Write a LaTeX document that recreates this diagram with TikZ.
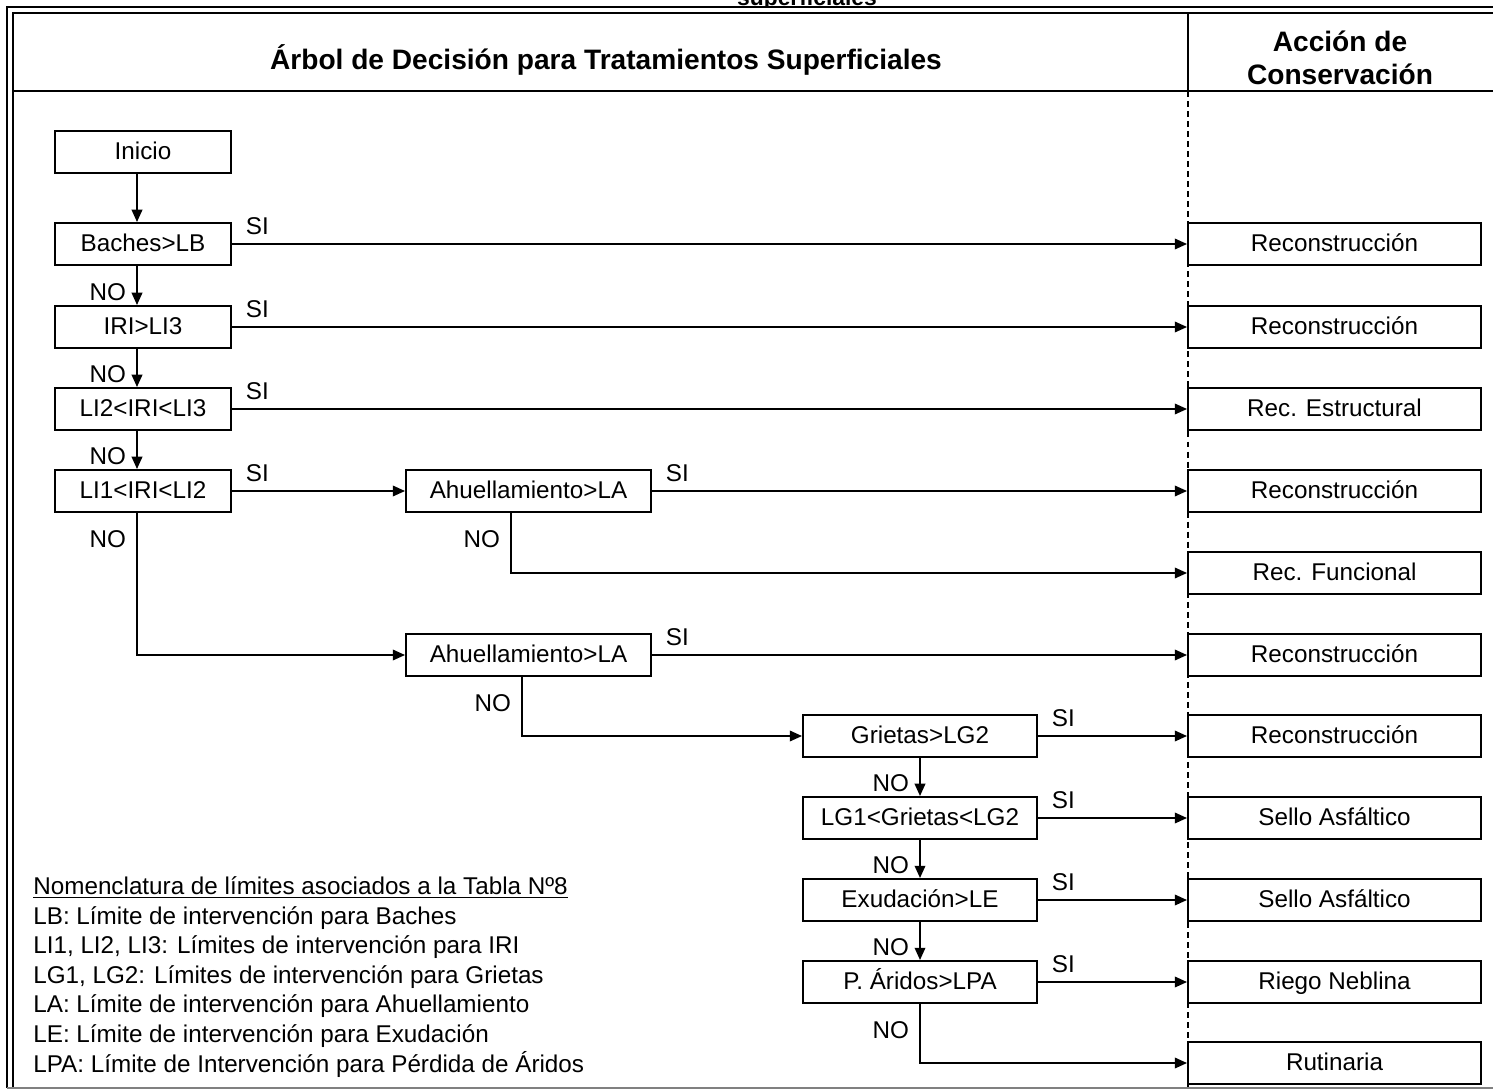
\documentclass[tikz,border=0pt]{standalone}
\usepackage{fontspec}
\setmainfont{Liberation Sans}
\usetikzlibrary{arrows.meta, positioning}

\tikzset{
  box/.style={draw, line width=1.1pt, minimum height=0.84cm, inner sep=0pt, text height=10pt, text depth=1.2pt},
  cond/.style={box, minimum width=3.52cm},
  ahu/.style={box, minimum width=4.9cm},
  grt/.style={box, minimum width=4.68cm},
  accion/.style={box, minimum width=5.86cm},
  flow/.style={-{Triangle[length=7pt, width=6pt]}, line width=1.1pt},
  si/.style={pos=0, anchor=south west, inner sep=0pt, xshift=0.26cm, yshift=0.17cm},
  nodown/.style={pos=0.66, anchor=east, inner sep=0pt, xshift=-0.2cm},
  nobend/.style={pos=0, anchor=north east, inner sep=0pt, xshift=-0.2cm, yshift=-0.34cm},
  header/.style={font=\fontsize{16}{18.7}\selectfont\bfseries, align=center}
}

\begin{document}
\begin{tikzpicture}[x=0.02cm, y=-0.02cm, font=\fontsize{13.8}{16.84}\selectfont]
  \useasboundingbox (0,0) rectangle (1493,1091);

  % cut-off caption above the frame
  \node[anchor=base, font=\fontsize{13}{15}\selectfont\bfseries] (caption) at (807,6) {\underline{superficiales}};

  % frame
  \fill[white] (7,7) rectangle (1493,12);
  \draw[line width=1.5pt] (1493,7) -- (7,7) -- (7,1088);
  \draw[line width=0.9pt] (1493,13) -- (13,13) -- (13,1088);
  \draw[line width=0.9pt] (13,91) -- (1493,91);
  \draw[line width=0.9pt] (1188,13) -- (1188,91);
  \draw[line width=0.8pt, dash pattern=on 3.4pt off 2.3pt] (1188,91) -- (1188,1088);
  \draw[line width=1.1pt, gray] (7,1088) -- (1493,1088);

  % headers
  \node[header] (titulo) at (606,60) {Árbol de Decisión para Tratamientos Superficiales};
  \node[header] (accionhd) at (1340,58) {Acción de\\Conservación};

  % decision boxes
  \node[cond] (inicio) at (143,152) {Inicio};
  \node[cond] (baches) at (143,244) {Baches>LB};
  \node[cond] (iri3) at (143,327) {IRI>LI3};
  \node[cond] (iri23) at (143,409) {LI2<IRI<LI3};
  \node[cond] (iri12) at (143,491) {LI1<IRI<LI2};

  \node[ahu] (ahua) at (528.5,491) {Ahuellamiento>LA};
  \node[ahu] (ahub) at (528.5,655) {Ahuellamiento>LA};

  \node[grt] (grietas) at (920,736) {Grietas>LG2};
  \node[grt] (grietas12) at (920,818) {LG1<Grietas<LG2};
  \node[grt] (exud) at (920,900) {Exudación>LE};
  \node[grt] (aridos) at (920,982) {P. Áridos>LPA};

  % actions
  \node[accion] (rec1) at (1334.5,244) {Reconstrucción};
  \node[accion] (rec2) at (1334.5,327) {Reconstrucción};
  \node[accion] (recest) at (1334.5,409) {Rec. Estructural};
  \node[accion] (rec3) at (1334.5,491) {Reconstrucción};
  \node[accion] (recfun) at (1334.5,573) {Rec. Funcional};
  \node[accion] (rec4) at (1334.5,655) {Reconstrucción};
  \node[accion] (rec5) at (1334.5,736) {Reconstrucción};
  \node[accion] (sello1) at (1334.5,818) {Sello Asfáltico};
  \node[accion] (sello2) at (1334.5,900) {Sello Asfáltico};
  \node[accion] (riego) at (1334.5,982) {Riego Neblina};
  \node[accion] (rutina) at (1334.5,1063) {Rutinaria};

  % NO branches
  \draw[flow] ([xshift=-0.12cm]inicio.south) -- ([xshift=-0.12cm]baches.north);
  \draw[flow] ([xshift=-0.12cm]baches.south) -- node[nodown] {NO} ([xshift=-0.12cm]iri3.north);
  \draw[flow] ([xshift=-0.12cm]iri3.south) -- node[nodown] {NO} ([xshift=-0.12cm]iri23.north);
  \draw[flow] ([xshift=-0.12cm]iri23.south) -- node[nodown] {NO} ([xshift=-0.12cm]iri12.north);
  \draw[flow] ([xshift=-0.12cm]iri12.south) |- node[nobend] {NO} (ahub.west);
  \draw[flow] ([xshift=-0.35cm]ahua.south) |- node[nobend] {NO} (recfun.west);
  \draw[flow] ([xshift=-0.13cm]ahub.south) |- node[nobend] {NO} (grietas.west);
  \draw[flow] (grietas.south) -- node[nodown] {NO} (grietas12.north);
  \draw[flow] (grietas12.south) -- node[nodown] {NO} (exud.north);
  \draw[flow] (exud.south) -- node[nodown] {NO} (aridos.north);
  \draw[flow] (aridos.south) |- node[nobend] {NO} (rutina.west);

  % SI branches
  \draw[flow] (baches.east) -- node[si] {SI} (rec1.west);
  \draw[flow] (iri3.east) -- node[si] {SI} (rec2.west);
  \draw[flow] (iri23.east) -- node[si] {SI} (recest.west);
  \draw[flow] (iri12.east) -- node[si] {SI} (ahua.west);
  \draw[flow] (ahua.east) -- node[si] {SI} (rec3.west);
  \draw[flow] (ahub.east) -- node[si] {SI} (rec4.west);
  \draw[flow] (grietas.east) -- node[si] {SI} (rec5.west);
  \draw[flow] (grietas12.east) -- node[si] {SI} (sello1.west);
  \draw[flow] (exud.east) -- node[si] {SI} (sello2.west);
  \draw[flow] (aridos.east) -- node[si] {SI} (riego.west);

  % nomenclature (base = last line)
  \node[anchor=base west, align=left, inner sep=0pt] (nomencl) at (33,1072) {\underline{Nomenclatura de límites asociados a la Tabla Nº8}\\
    LB: Límite de intervención para Baches\\
    LI1, LI2, LI3: Límites de intervención para IRI\\
    LG1, LG2: Límites de intervención para Grietas\\
    LA: Límite de intervención para Ahuellamiento\\
    LE: Límite de intervención para Exudación\\
    LPA: Límite de Intervención para Pérdida de Áridos};
\end{tikzpicture}
\end{document}
